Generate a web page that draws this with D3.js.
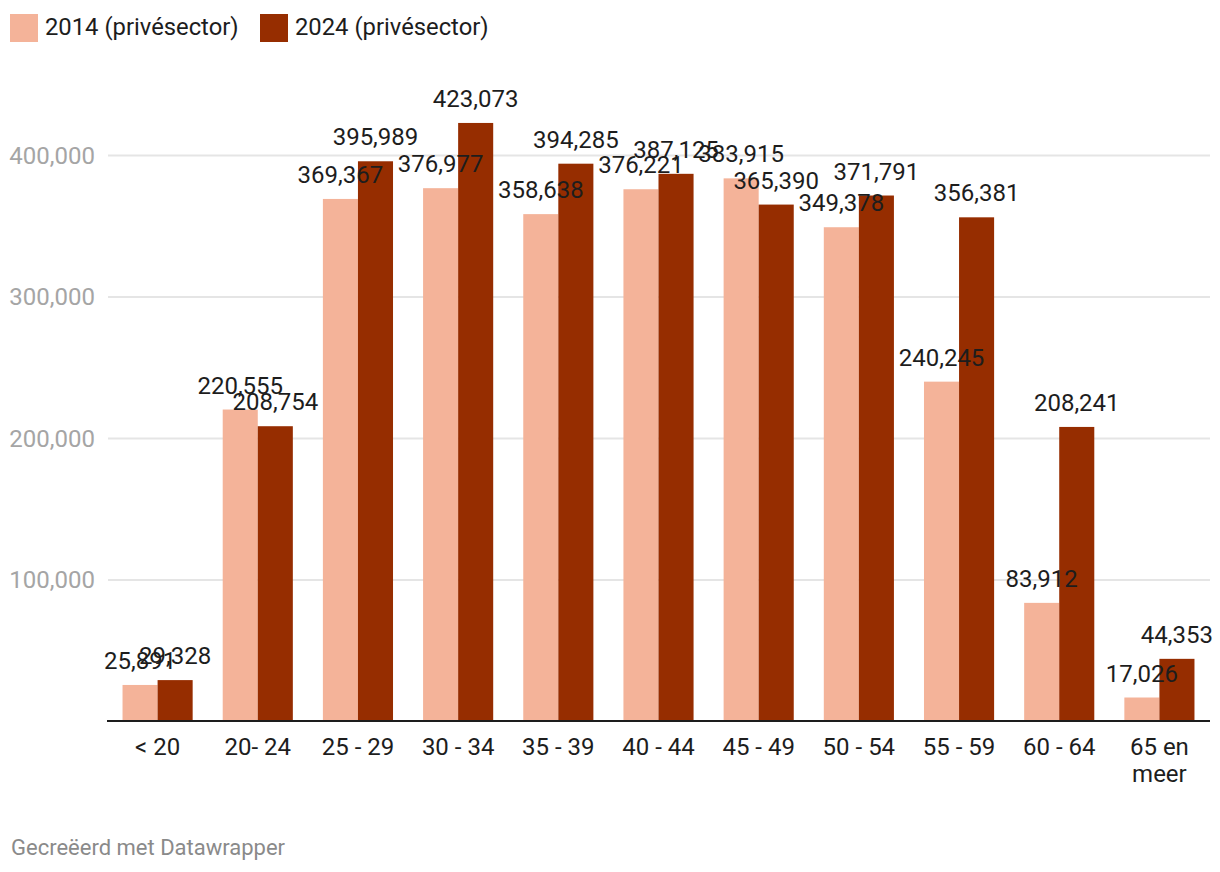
<!DOCTYPE html>
<html>
<head>
<meta charset="utf-8">
<script src="https://cdn.jsdelivr.net/npm/d3@7/dist/d3.min.js"></script>
<style>
  html, body { margin: 0; padding: 0; background: #fff; }
  svg { display: block; font-family: Roboto, "Noto Sans", sans-serif; }
</style>
</head>
<body>
<svg id="chart" width="1220" height="872"></svg>
<script>
const categories = ["< 20", "20- 24", "25 - 29", "30 - 34", "35 - 39", "40 - 44", "45 - 49", "50 - 54", "55 - 59", "60 - 64", "65 en meer"];
const seriesNames = ["2014 (privésector)", "2024 (privésector)"];
const values2014 = [25891, 220555, 369367, 376977, 358638, 376221, 383915, 349378, 240245, 83912, 17026];
const values2024 = [29328, 208754, 395989, 423073, 394285, 387125, 365390, 371791, 356381, 208241, 44353];
const yTicks = [100000, 200000, 300000, 400000];
const colors = ["#f4b399", "#962d00"];
const footerText = "Gecreëerd met Datawrapper";

const svg = d3.select("#chart");
const fmt = d3.format(",");

const x = d3.scaleBand().domain(categories).range([107.5, 1209.5]).paddingInner(0.3).paddingOuter(0.15);
const xSub = d3.scaleBand().domain(seriesNames).range([0, x.bandwidth()]);
const y = d3.scaleLinear().domain([0, 400000]).range([721.6, 155.6]);

// gridlines + y labels
const yAxis = d3.axisLeft(y).tickValues(yTicks).tickFormat(fmt).tickSize(0);
const gy = svg.append("g").attr("transform", "translate(95,0)").call(yAxis);
gy.select(".domain").remove();
gy.selectAll("text").attr("font-size", 24).attr("fill", "#a5a5a5").attr("font-family", "Roboto").attr("dx", 0).attr("x", 0);
svg.append("g").selectAll("line").data(yTicks).join("line")
  .attr("x1", 108).attr("x2", 1210)
  .attr("y1", d => y(d)).attr("y2", d => y(d))
  .attr("stroke", "#e5e5e5").attr("stroke-width", 2);

// bars
const rows = categories.map((c, i) => ({ cat: c, vals: [values2014[i], values2024[i]] }));
const groups = svg.append("g").selectAll("g").data(rows).join("g")
  .attr("transform", d => `translate(${x(d.cat)},0)`);
groups.selectAll("rect").data(d => d.vals.map((v, j) => ({ v, s: seriesNames[j], j }))).join("rect")
  .attr("x", d => xSub(d.s))
  .attr("width", xSub.bandwidth())
  .attr("y", d => y(d.v))
  .attr("height", d => y(0) - y(d.v))
  .attr("fill", d => colors[d.j]);

// baseline
svg.append("line").attr("x1", 107).attr("x2", 1210).attr("y1", 721).attr("y2", 721)
  .attr("stroke", "#1d1d1d").attr("stroke-width", 2);

// value labels
groups.selectAll("text.val").data(d => d.vals.map((v, j) => ({ v, s: seriesNames[j], j }))).join("text")
  .attr("class", "val")
  .attr("x", d => xSub(d.s) + xSub.bandwidth() / 2)
  .attr("y", d => y(d.v) - 16)
  .attr("text-anchor", "middle")
  .attr("font-size", 24)
  .attr("fill", "#1d1d1d")
  .text(d => fmt(d.v));

// x axis labels
const xAxis = d3.axisBottom(x).tickSize(0).tickPadding(0);
const gx = svg.append("g").call(xAxis);
gx.select(".domain").remove();
gx.selectAll("text").remove();
gx.selectAll(".tick").each(function(d) {
  const lines = d === "65 en meer" ? ["65 en", "meer"] : [d];
  const t = d3.select(this).append("text")
    .attr("text-anchor", "middle").attr("font-size", 24).attr("fill", "#1d1d1d")
    .attr("font-family", "Roboto");
  lines.forEach((ln, k) => t.append("tspan").attr("x", 0).attr("y", 755 + k * 27).text(ln));
});

// legend
const leg = svg.append("g");
const legX = [10, 260];
seriesNames.forEach((n, i) => {
  leg.append("rect").attr("x", legX[i]).attr("y", 14).attr("width", 28).attr("height", 28).attr("fill", colors[i]);
  leg.append("text").attr("x", legX[i] + 35).attr("y", 35).attr("font-size", 23.8).attr("fill", "#1d1d1d").text(n);
});

// footer
svg.append("text").attr("x", 11).attr("y", 855).attr("font-size", 22).attr("fill", "#8a8a8a").text(footerText);
</script>
</body>
</html>
